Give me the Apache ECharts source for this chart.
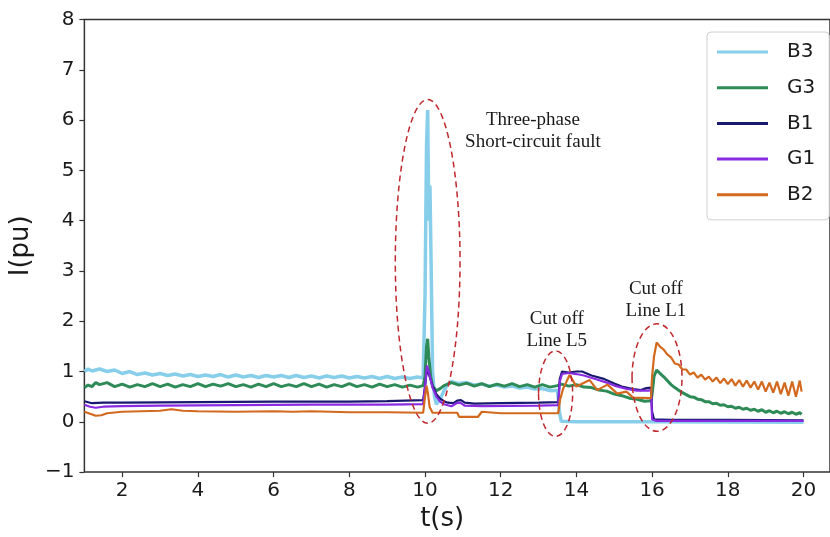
<!DOCTYPE html>
<html>
<head>
<meta charset="utf-8">
<script src="https://cdn.jsdelivr.net/npm/echarts@6/dist/echarts.min.js"></script>
<style>
  html, body {margin: 0; padding: 0; background: #fff;}
  #main {width: 830px; height: 537px;}
</style>
</head>
<body>
<div id="main"></div>
<script>
// currents per bus/generator, [t (s), I (pu)]
const b3 = [
  [1.0,1.0],[1.1,1.05],[1.2,1.01],[1.4,1.05],[1.6,1.0],[1.8,1.03],[2.0,0.96],[2.2,1.0],[2.4,0.94],[2.6,0.97],
  [2.8,0.93],[3.0,0.96],[3.2,0.92],[3.4,0.95],[3.6,0.91],[3.8,0.94],[4.0,0.9],[4.2,0.93],[4.4,0.9],[4.6,0.94],
  [4.8,0.89],[5.0,0.93],[5.2,0.89],[5.4,0.92],[5.6,0.88],[5.8,0.92],[6.0,0.89],[6.2,0.92],[6.4,0.88],[6.6,0.92],
  [6.8,0.88],[7.0,0.91],[7.2,0.87],[7.4,0.91],[7.6,0.88],[7.8,0.91],[8.0,0.87],[8.2,0.9],[8.4,0.87],[8.6,0.9],
  [8.8,0.86],[9.0,0.9],[9.2,0.86],[9.4,0.89],[9.6,0.86],[9.8,0.89],[9.95,0.87],
  [10.0,2.5],[10.04,5.5],[10.07,6.2],[10.1,4.0],[10.13,4.7],[10.16,3.2],[10.2,1.0],[10.25,0.5],[10.3,0.35],
  [10.4,0.45],[10.5,0.62],[10.6,0.75],[10.7,0.8],[10.9,0.76],[11.1,0.78],[11.3,0.73],[11.5,0.75],[11.7,0.71],
  [11.9,0.73],[12.1,0.69],[12.3,0.71],[12.5,0.67],[12.7,0.69],[12.9,0.65],[13.1,0.66],[13.3,0.62],[13.5,0.63],
  [13.55,0.2],[13.6,0.01],[14.0,0.0],[16.0,0.0],[20.0,-0.01]
];
const g3 = [
  [1.0,0.68],[1.1,0.73],[1.2,0.7],[1.3,0.78],[1.4,0.74],[1.6,0.78],[1.8,0.7],[2.0,0.75],[2.2,0.69],[2.4,0.74],
  [2.6,0.7],[2.8,0.76],[3.0,0.7],[3.2,0.75],[3.4,0.69],[3.6,0.74],[3.8,0.7],[4.0,0.76],[4.2,0.7],[4.4,0.75],
  [4.6,0.71],[4.8,0.76],[5.0,0.7],[5.2,0.74],[5.4,0.69],[5.6,0.75],[5.8,0.7],[6.0,0.76],[6.2,0.7],[6.4,0.74],
  [6.6,0.7],[6.8,0.76],[7.0,0.7],[7.2,0.75],[7.4,0.69],[7.6,0.74],[7.8,0.7],[8.0,0.76],[8.2,0.7],[8.4,0.74],
  [8.6,0.69],[8.8,0.75],[9.0,0.7],[9.2,0.74],[9.4,0.69],[9.6,0.73],[9.8,0.69],[9.95,0.72],
  [10.0,0.9],[10.04,1.5],[10.07,1.65],[10.1,1.3],[10.15,0.9],[10.2,0.7],[10.3,0.62],[10.4,0.66],[10.5,0.72],
  [10.7,0.78],[10.9,0.73],[11.1,0.77],[11.3,0.71],[11.5,0.76],[11.7,0.7],[11.9,0.75],[12.1,0.71],[12.3,0.76],
  [12.5,0.7],[12.7,0.74],[12.9,0.69],[13.1,0.74],[13.3,0.69],[13.5,0.72],
  [13.6,0.75],[13.8,0.71],[14.0,0.74],[14.2,0.69],[14.4,0.68],[14.6,0.63],[14.8,0.61],[15.0,0.55],[15.2,0.52],
  [15.4,0.47],[15.6,0.45],[15.8,0.41],[15.97,0.42],
  [16.0,0.55],[16.05,0.9],[16.12,1.03],[16.2,0.97],[16.3,0.9],[16.4,0.82],[16.5,0.74],[16.6,0.68],[16.7,0.63],
  [16.8,0.58],[16.9,0.54],[17.0,0.5],[17.1,0.49],[17.2,0.45],[17.3,0.44],[17.4,0.4],[17.5,0.4],[17.6,0.36],
  [17.7,0.37],[17.8,0.33],[17.9,0.34],[18.0,0.3],[18.1,0.31],[18.2,0.27],[18.3,0.29],[18.4,0.25],[18.5,0.27],
  [18.6,0.23],[18.7,0.25],[18.8,0.21],[18.9,0.24],[19.0,0.19],[19.1,0.22],[19.2,0.18],[19.3,0.21],[19.4,0.17],
  [19.5,0.2],[19.6,0.16],[19.7,0.19],[19.8,0.15],[19.9,0.18],[19.95,0.15]
];
const b1 = [
  [1.0,0.41],[1.2,0.37],[1.5,0.38],[2.0,0.38],[4.0,0.39],[6.0,0.4],[8.0,0.4],[9.0,0.41],[9.95,0.43],
  [10.0,0.7],[10.05,1.05],[10.1,0.95],[10.2,0.72],[10.3,0.55],[10.4,0.46],[10.5,0.41],[10.6,0.38],[10.75,0.37],
  [10.85,0.42],[10.95,0.43],[11.05,0.38],[11.3,0.36],[12.0,0.37],[13.0,0.38],[13.52,0.39],
  [13.56,0.85],[13.62,1.0],[13.8,0.98],[14.0,1.0],[14.15,1.0],[14.4,0.92],[14.7,0.86],[15.0,0.76],[15.2,0.7],
  [15.5,0.65],[15.7,0.63],[15.85,0.67],[15.97,0.68],[16.0,0.2],[16.05,0.05],[16.5,0.04],[18.0,0.04],[20.0,0.03]
];
const g1 = [
  [1.0,0.34],[1.15,0.3],[1.3,0.28],[1.5,0.3],[2.0,0.31],[3.0,0.32],[5.0,0.33],[7.0,0.34],[9.0,0.34],[9.95,0.35],
  [10.0,0.7],[10.05,1.12],[10.1,1.0],[10.2,0.68],[10.3,0.5],[10.4,0.4],[10.5,0.35],[10.7,0.31],[10.85,0.38],
  [10.95,0.37],[11.05,0.32],[11.5,0.31],[13.0,0.32],[13.52,0.33],
  [13.56,0.8],[13.62,0.95],[13.8,0.97],[14.0,0.95],[14.2,0.92],[14.5,0.85],[14.8,0.78],[15.0,0.72],[15.3,0.66],
  [15.6,0.62],[15.9,0.62],[15.97,0.63],[16.0,0.05],[16.1,0.02],[20.0,0.02]
];
const b2 = [
  [1.0,0.2],[1.15,0.16],[1.3,0.12],[1.45,0.13],[1.6,0.17],[2.0,0.2],[2.5,0.21],[3.0,0.22],[3.3,0.25],[3.6,0.22],
  [4.0,0.21],[5.0,0.2],[6.0,0.21],[6.5,0.2],[7.0,0.21],[7.5,0.2],[8.0,0.19],[9.0,0.19],[9.95,0.18],
  [10.0,0.5],[10.04,0.72],[10.08,0.55],[10.12,0.3],[10.2,0.18],[10.5,0.18],[10.85,0.18],[10.9,0.1],[11.4,0.1],
  [11.5,0.2],[12.0,0.17],[13.0,0.17],[13.52,0.17],
  [13.57,0.45],[13.65,0.66],[13.82,0.93],[14.0,0.7],[14.35,0.83],[14.55,0.63],[14.82,0.74],[15.08,0.56],
  [15.32,0.6],[15.5,0.48],[15.97,0.47],
  [16.0,0.9],[16.05,1.3],[16.12,1.58],[16.2,1.5],[16.3,1.44],[16.4,1.34],[16.5,1.28],[16.6,1.16],[16.7,1.14],
  [16.8,1.04],[16.9,1.04],[17.0,0.94],[17.1,0.98],[17.2,0.88],[17.3,0.94],[17.4,0.84],[17.5,0.9],[17.6,0.8],
  [17.7,0.88],[17.8,0.77],[17.9,0.86],[18.0,0.75],[18.1,0.85],[18.2,0.72],[18.3,0.83],[18.4,0.7],[18.5,0.82],
  [18.6,0.68],[18.7,0.8],[18.8,0.64],[18.9,0.8],[19.0,0.6],[19.1,0.78],[19.2,0.58],[19.3,0.8],[19.4,0.55],
  [19.5,0.78],[19.6,0.52],[19.7,0.8],[19.8,0.5],[19.9,0.82],[19.95,0.6]
];

const names = ['B3', 'G3', 'B1', 'G1', 'B2'];
const colors = ['#87ceeb', '#2e8b57', '#191970', '#8a2be2', '#d2691e'];
const widths = [3.5, 3, 2.2, 2.2, 2.2];
const xTicks = [2, 4, 6, 8, 10, 12, 14, 16, 18, 20];

// annotation texts and dashed rings, in data units
const notes = [
  {text: 'Three-phase\nShort-circuit fault', t: 12.85, v: 5.79},
  {text: 'Cut off\nLine L5', t: 13.48, v: 1.83},
  {text: 'Cut off\nLine L1', t: 16.1, v: 2.42}
];
const rings = [
  {t: 10.07, v: 3.19, dt: 0.855, dv: 3.22},
  {t: 13.45, v: 0.56, dt: 0.45, dv: 0.85},
  {t: 16.13, v: 0.88, dt: 0.66, dv: 1.07}
];

const chart = echarts.init(document.getElementById('main'));
const font = 'DejaVu Sans';

const option = {
  animation: false,
  backgroundColor: '#fff',
  grid: {
    left: 82.5, top: 19.5, bottom: 63, right: -2,
    show: true, borderColor: '#333', borderWidth: 1.5
  },
  legend: {
    orient: 'vertical',
    left: 707, top: 32,
    padding: [9, 14, 14, 10],
    icon: 'rect',
    itemWidth: 51, itemHeight: 3, itemGap: 13.7,
    borderColor: '#d0d0d0', borderWidth: 1, borderRadius: 4,
    backgroundColor: '#fff',
    textStyle: {fontFamily: font, fontSize: 20, color: '#1a1a1a', lineHeight: 22, padding: [0, 0, 0, 14]},
    data: names
  },
  xAxis: {
    type: 'value', min: 1, max: 20.7,
    name: 't(s)', nameLocation: 'middle', nameGap: 32,
    nameTextStyle: {fontFamily: font, fontSize: 26, color: '#1a1a1a', padding: [0, 30, 0, 0]},
    axisLine: {show: false, onZero: false},
    axisTick: {show: true, length: 5, customValues: xTicks, lineStyle: {color: '#333', width: 1.2}},
    axisLabel: {customValues: xTicks, fontFamily: font, fontSize: 20, color: '#1a1a1a', margin: 9},
    splitLine: {show: false}
  },
  yAxis: {
    type: 'value', min: -1, max: 8, interval: 1,
    name: 'I(pu)', nameLocation: 'middle', nameGap: 38, nameRotate: 90,
    nameTextStyle: {fontFamily: font, fontSize: 26, color: '#1a1a1a'},
    axisLine: {show: false, onZero: false},
    axisTick: {show: true, length: 5, lineStyle: {color: '#333', width: 1.2}},
    axisLabel: {
      fontFamily: font, fontSize: 20, color: '#1a1a1a', margin: 10,
      formatter: v => String(v).replace('-', '\u2212')
    },
    splitLine: {show: false}
  },
  series: [b3, g3, b1, g1, b2].map((d, i) => ({
    name: names[i],
    type: 'line',
    data: d,
    symbol: 'none',
    color: colors[i],
    lineStyle: {width: widths[i], color: colors[i]}
  }))
};
chart.setOption(option);

// place the notes and dashed rings through the axes
const px = (t, v) => chart.convertToPixel({gridIndex: 0}, [t, v]);
const graphics = [];
rings.forEach(r => {
  const c = px(r.t, r.v);
  const e = px(r.t + r.dt, r.v + r.dv);
  graphics.push({
    type: 'ellipse',
    shape: {cx: c[0], cy: c[1], rx: e[0] - c[0], ry: c[1] - e[1]},
    style: {fill: null, stroke: '#c0282d', lineWidth: 1.5, lineDash: [6, 4]},
    silent: true, z: 10
  });
});
notes.forEach(n => {
  const c = px(n.t, n.v);
  graphics.push({
    type: 'text', x: c[0], y: c[1],
    style: {
      text: n.text, fontFamily: 'Liberation Serif', fontSize: 19, lineHeight: 22,
      fill: '#1a1a1a', align: 'center', verticalAlign: 'middle'
    },
    silent: true, z: 10
  });
});
chart.setOption({graphic: graphics});
</script>
</body>
</html>
